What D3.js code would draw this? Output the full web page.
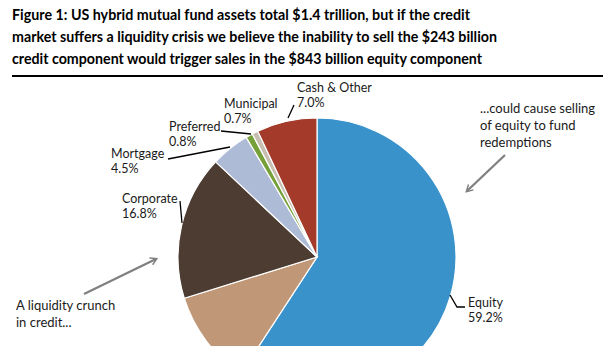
<!DOCTYPE html>
<html>
<head>
<meta charset="utf-8">
<script src="https://cdn.jsdelivr.net/npm/d3@7"></script>
<style>
  body { margin: 0; background: #fff; }
  svg { display: block; font-family: Lato, "Open Sans", sans-serif; }
</style>
</head>
<body>
<div id="chart"></div>
<script>
// data
var categories = ["Equity", "Government", "Corporate", "Mortgage", "Preferred", "Municipal", "Cash & Other"];
var shares = [59.2, 11.0, 16.8, 4.5, 0.8, 0.7, 7.0];
var sliceColors = ["#3a92cb", "#c09878", "#4d3c31", "#aebbd6", "#76a13a", "#c6bfb1", "#a33a2a"];

var titleLines = [
    "Figure 1: US hybrid mutual fund assets total $1.4 trillion, but if the credit",
    "market suffers a liquidity crisis we believe the inability to sell the $243 billion",
    "credit component would trigger sales in the $843 billion equity component"
];
var titleWidths = [458, 485, 470];

// label placement (layout only)
var labelPos = {
    "Equity":       {x: 468, y: 307, line: [[450, 295], [457, 307], [465, 307]]},
    "Government":   {x: 145, y: 356, line: null},
    "Corporate":    {x: 122, y: 203, line: [[180, 201], [182, 223]]},
    "Mortgage":     {x: 111, y: 158, line: [[168, 159], [230, 147]]},
    "Preferred":    {x: 169, y: 131, line: [[221, 131], [251, 134]]},
    "Municipal":    {x: 224, y: 108, line: null},
    "Cash & Other": {x: 297, y: 92,  line: [[288, 118], [294, 105]]}
};

var width = 614, height = 346;
var cx = 317, cy = 257, radius = 139;

var svg = d3.select("#chart").append("svg")
    .attr("width", width)
    .attr("height", height);

// title
svg.append("g").selectAll("text")
    .data(titleLines)
    .enter().append("text")
    .attr("x", 12)
    .attr("y", function(d, i) { return 20 + i * 22; })
    .attr("textLength", function(d, i) { return titleWidths[i]; })
    .attr("lengthAdjust", "spacingAndGlyphs")
    .style("font-size", "16px")
    .style("font-weight", "bold")
    .style("fill", "#000")
    .text(function(d) { return d; });

svg.append("line")
    .attr("x1", 12).attr("x2", 603)
    .attr("y1", 76).attr("y2", 76)
    .style("stroke", "#000")
    .style("stroke-width", 2);

// pie
var pieData = categories.map(function(c, i) { return {name: c, value: shares[i], color: sliceColors[i]}; });

var pie = d3.pie()
    .sort(null)
    .value(function(d) { return d.value; });

var arc = d3.arc()
    .innerRadius(0)
    .outerRadius(radius);

var pieG = svg.append("g")
    .attr("transform", "translate(" + cx + "," + cy + ")");

pieG.selectAll("path")
    .data(pie(pieData))
    .enter().append("path")
    .attr("d", arc)
    .style("fill", function(d) { return d.data.color; })
    .style("stroke", "#fff")
    .style("stroke-width", 1.2);

// leader lines + labels
var labelG = svg.append("g");
var lineGen = d3.line();

pieData.forEach(function(d) {
    var p = labelPos[d.name];
    if (p.line) {
        labelG.append("path")
            .attr("d", lineGen(p.line))
            .style("fill", "none")
            .style("stroke", "#000")
            .style("stroke-width", 1.3);
    }
    var t = labelG.append("text")
        .attr("x", p.x)
        .attr("y", p.y)
        .style("font-size", "12.5px")
        .style("fill", "#1a1a1a");
    t.append("tspan").attr("x", p.x).text(d.name);
    t.append("tspan").attr("x", p.x).attr("dy", 14.5).text(d3.format(".1f")(d.value) + "%");
});

// annotations with grey arrows
svg.append("defs").append("marker")
    .attr("id", "head")
    .attr("viewBox", "0 0 10 10")
    .attr("refX", 7).attr("refY", 5)
    .attr("markerWidth", 4).attr("markerHeight", 4)
    .attr("orient", "auto")
    .append("path")
    .attr("d", "M1,1 L8,5 L1,9")
    .style("fill", "none")
    .style("stroke", "#808080")
    .style("stroke-width", 1.6);

var arrows = [
    {from: [84, 294], to: [156, 259]},
    {from: [505, 155], to: [467, 191]}
];
svg.append("g").selectAll("line")
    .data(arrows)
    .enter().append("line")
    .attr("x1", function(d) { return d.from[0]; })
    .attr("y1", function(d) { return d.from[1]; })
    .attr("x2", function(d) { return d.to[0]; })
    .attr("y2", function(d) { return d.to[1]; })
    .style("stroke", "#808080")
    .style("stroke-width", 2.3)
    .attr("marker-end", "url(#head)");

var notes = [
    {x: 480, y: 113, lines: ["...could cause selling", "of equity to fund", "redemptions"]},
    {x: 16, y: 310, lines: ["A liquidity crunch", "in credit..."]}
];
notes.forEach(function(n) {
    var t = svg.append("text")
        .attr("x", n.x)
        .attr("y", n.y)
        .style("font-size", "13px")
        .style("fill", "#1a1a1a");
    n.lines.forEach(function(l, i) {
        t.append("tspan").attr("x", n.x).attr("dy", i === 0 ? 0 : 17).text(l);
    });
});
</script>
</body>
</html>
